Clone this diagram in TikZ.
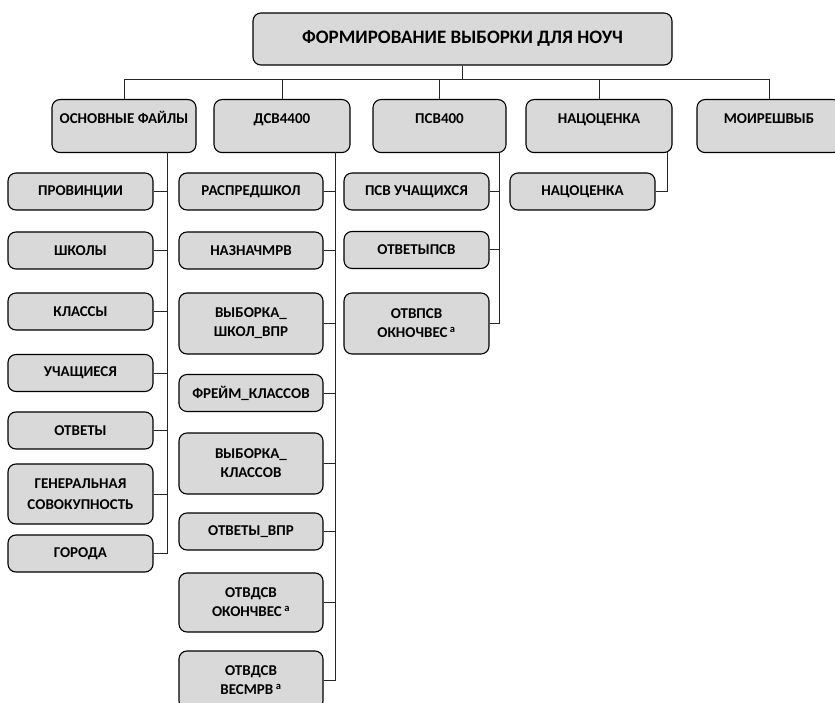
\documentclass[tikz,border=0pt]{standalone}
\usepackage{fontspec}
\setmainfont{Carlito}
\definecolor{boxgray}{RGB}{217,217,217}
\newcommand{\wmark}{\,\textsuperscript{a}}
\tikzset{
  every node/.style={font=\bfseries\fontsize{15}{19}\selectfont},
  file/.style={draw=black, fill=boxgray, rounded corners=8pt, line width=1.1pt, inner sep=0pt,
    minimum width=145pt, minimum height=37pt, align=center},
  filetwo/.style={file, minimum height=60pt},
  group/.style={draw=black, fill=boxgray, rounded corners=8pt, line width=1.1pt, inner sep=0pt,
    anchor=north, text height=24pt, text depth=29pt},
  link/.style={line width=1pt, black!85},
}

\begin{document}
\begin{tikzpicture}[x=1pt,y=-1pt]
\clip (0,0) rectangle (835,703);
\node[file, minimum width=419pt, minimum height=52pt, font=\bfseries\fontsize{19}{22}\selectfont] (root) at (462.5,39) {ФОРМИРОВАНИЕ ВЫБОРКИ ДЛЯ НОУЧ};

\node[group, minimum width=144pt] (osn) at (124,99) {ОСНОВНЫЕ ФАЙЛЫ};
\node[group, minimum width=136pt] (dsv) at (282,99) {ДСВ4400};
\node[group, minimum width=133pt] (psv) at (439.5,99) {ПСВ400};
\node[group, minimum width=146pt] (nac) at (599,99) {НАЦОЦЕНКА};
\node[group, minimum width=144pt] (moi) at (769,99) {МОИРЕШВЫБ};

\node[file] (prov) at (80.5,191.5) {ПРОВИНЦИИ};
\node[file] (shk) at (80.5,250.5) {ШКОЛЫ};
\node[file] (kla) at (80.5,311.5) {КЛАССЫ};
\node[file] (uch) at (80.5,373) {УЧАЩИЕСЯ};
\node[file] (otv) at (80.5,430.5) {ОТВЕТЫ};
\node[filetwo, font=\bfseries\fontsize{15}{21}\selectfont] (gen) at (80.5,494) {ГЕНЕРАЛЬНАЯ\\СОВОКУПНОСТЬ};
\node[file] (gor) at (80.5,553.5) {ГОРОДА};

\node[file, minimum width=144pt] (rasp) at (251,191.5) {РАСПРЕДШКОЛ};
\node[file, minimum width=144pt] (naz) at (251,250.5) {НАЗНАЧМРВ};
\node[filetwo, minimum width=144pt, minimum height=61pt] (vsh) at (251,323.5) {ВЫБОРКА\_\\ШКОЛ\_ВПР};
\node[file, minimum width=144pt] (frk) at (251,393) {ФРЕЙМ\_КЛАССОВ};
\node[filetwo, minimum width=144pt, minimum height=61pt] (vkl) at (251,463.5) {ВЫБОРКА\_\\КЛАССОВ};
\node[file, minimum width=144pt] (ovp) at (251,531.5) {ОТВЕТЫ\_ВПР};
\node[filetwo, minimum width=144pt, minimum height=59pt] (oko) at (251,602.5) {ОТВДСВ\\ОКОНЧВЕС\wmark};
\node[filetwo, minimum width=144pt, minimum height=58pt] (ves) at (251,680) {ОТВДСВ\\ВЕСМРВ\wmark};

\node[file] (puch) at (416.5,191.5) {ПСВ УЧАЩИХСЯ};
\node[file] (opsv) at (416.5,250) {ОТВЕТЫПСВ};
\node[filetwo, minimum height=61pt] (ops) at (416.5,323.5) {ОТВПСВ\\ОКНОЧВЕС\wmark};

\node[file] (nch) at (582.5,191.5) {НАЦОЦЕНКА};

\coordinate (bus) at (0,80);
\coordinate (osnv) at (167,152);
\coordinate (dsvv) at (335,152);
\coordinate (psvv) at (499,152);
\coordinate (nacv) at (667,152);

\draw[link] (root.south) -- (root.south |- bus);
\draw[link] (osn.north) |- (moi.north |- bus) -- (moi.north);
\foreach \g in {dsv,psv,nac}
  \draw[link] (\g.north) -- (\g.north |- bus);

\draw[link] (osnv) |- (gor.east);
\foreach \c in {prov,shk,kla,uch,otv,gen}
  \draw[link] (\c.east) -- (\c.east -| osnv);
\draw[link] (dsvv) |- (ves.east);
\foreach \c in {rasp,naz,vsh,frk,vkl,ovp,oko}
  \draw[link] (\c.east) -- (\c.east -| dsvv);
\draw[link] (psvv) |- (ops.east);
\foreach \c in {puch,opsv}
  \draw[link] (\c.east) -- (\c.east -| psvv);
\draw[link] (nacv) |- (nch.east);
\end{tikzpicture}
\end{document}
